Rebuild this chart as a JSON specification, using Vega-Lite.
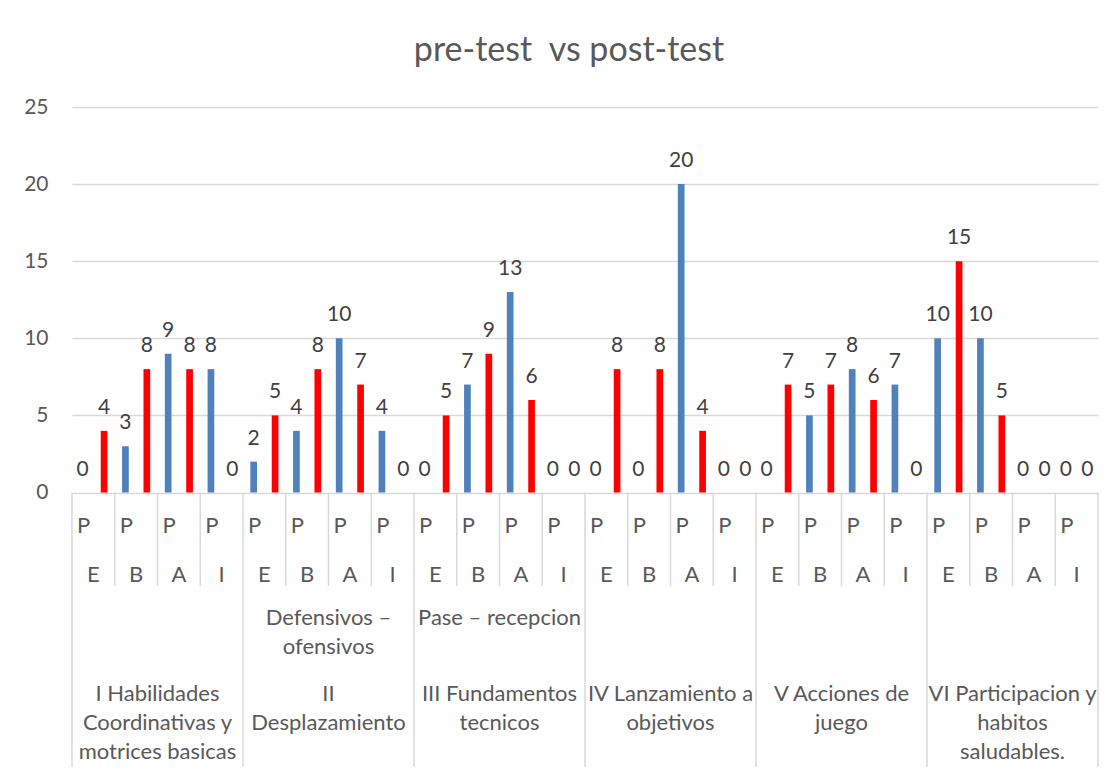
{
  "$schema": "https://vega.github.io/schema/vega-lite/v6.json",
  "width": 1026,
  "height": 660,
  "autosize": {"type": "none"},
  "padding": {"left": 72, "top": 107, "right": 22, "bottom": 9},
  "background": "white",
  "title": {
    "text": "pre-test \u00a0vs post-test",
    "font": "Lato",
    "fontSize": 34,
    "fontWeight": "normal",
    "color": "#595959",
    "anchor": "middle",
    "dx": -16,
    "offset": 28
  },
  "config": {
    "view": {"stroke": null},
    "font": "Lato",
    "text": {"font": "Lato"}
  },
  "datasets": {
    "bars": [
      {"g": "I", "s": "PE", "k": "I|PE", "series": "pre-test", "v": 0},
      {"g": "I", "s": "PE", "k": "I|PE", "series": "post-test", "v": 4},
      {"g": "I", "s": "PB", "k": "I|PB", "series": "pre-test", "v": 3},
      {"g": "I", "s": "PB", "k": "I|PB", "series": "post-test", "v": 8},
      {"g": "I", "s": "PA", "k": "I|PA", "series": "pre-test", "v": 9},
      {"g": "I", "s": "PA", "k": "I|PA", "series": "post-test", "v": 8},
      {"g": "I", "s": "PI", "k": "I|PI", "series": "pre-test", "v": 8},
      {"g": "I", "s": "PI", "k": "I|PI", "series": "post-test", "v": 0},
      {"g": "II", "s": "PE", "k": "II|PE", "series": "pre-test", "v": 2},
      {"g": "II", "s": "PE", "k": "II|PE", "series": "post-test", "v": 5},
      {"g": "II", "s": "PB", "k": "II|PB", "series": "pre-test", "v": 4},
      {"g": "II", "s": "PB", "k": "II|PB", "series": "post-test", "v": 8},
      {"g": "II", "s": "PA", "k": "II|PA", "series": "pre-test", "v": 10},
      {"g": "II", "s": "PA", "k": "II|PA", "series": "post-test", "v": 7},
      {"g": "II", "s": "PI", "k": "II|PI", "series": "pre-test", "v": 4},
      {"g": "II", "s": "PI", "k": "II|PI", "series": "post-test", "v": 0},
      {"g": "III", "s": "PE", "k": "III|PE", "series": "pre-test", "v": 0},
      {"g": "III", "s": "PE", "k": "III|PE", "series": "post-test", "v": 5},
      {"g": "III", "s": "PB", "k": "III|PB", "series": "pre-test", "v": 7},
      {"g": "III", "s": "PB", "k": "III|PB", "series": "post-test", "v": 9},
      {"g": "III", "s": "PA", "k": "III|PA", "series": "pre-test", "v": 13},
      {"g": "III", "s": "PA", "k": "III|PA", "series": "post-test", "v": 6},
      {"g": "III", "s": "PI", "k": "III|PI", "series": "pre-test", "v": 0},
      {"g": "III", "s": "PI", "k": "III|PI", "series": "post-test", "v": 0},
      {"g": "IV", "s": "PE", "k": "IV|PE", "series": "pre-test", "v": 0},
      {"g": "IV", "s": "PE", "k": "IV|PE", "series": "post-test", "v": 8},
      {"g": "IV", "s": "PB", "k": "IV|PB", "series": "pre-test", "v": 0},
      {"g": "IV", "s": "PB", "k": "IV|PB", "series": "post-test", "v": 8},
      {"g": "IV", "s": "PA", "k": "IV|PA", "series": "pre-test", "v": 20},
      {"g": "IV", "s": "PA", "k": "IV|PA", "series": "post-test", "v": 4},
      {"g": "IV", "s": "PI", "k": "IV|PI", "series": "pre-test", "v": 0},
      {"g": "IV", "s": "PI", "k": "IV|PI", "series": "post-test", "v": 0},
      {"g": "V", "s": "PE", "k": "V|PE", "series": "pre-test", "v": 0},
      {"g": "V", "s": "PE", "k": "V|PE", "series": "post-test", "v": 7},
      {"g": "V", "s": "PB", "k": "V|PB", "series": "pre-test", "v": 5},
      {"g": "V", "s": "PB", "k": "V|PB", "series": "post-test", "v": 7},
      {"g": "V", "s": "PA", "k": "V|PA", "series": "pre-test", "v": 8},
      {"g": "V", "s": "PA", "k": "V|PA", "series": "post-test", "v": 6},
      {"g": "V", "s": "PI", "k": "V|PI", "series": "pre-test", "v": 7},
      {"g": "V", "s": "PI", "k": "V|PI", "series": "post-test", "v": 0},
      {"g": "VI", "s": "PE", "k": "VI|PE", "series": "pre-test", "v": 10},
      {"g": "VI", "s": "PE", "k": "VI|PE", "series": "post-test", "v": 15},
      {"g": "VI", "s": "PB", "k": "VI|PB", "series": "pre-test", "v": 10},
      {"g": "VI", "s": "PB", "k": "VI|PB", "series": "post-test", "v": 5},
      {"g": "VI", "s": "PA", "k": "VI|PA", "series": "pre-test", "v": 0},
      {"g": "VI", "s": "PA", "k": "VI|PA", "series": "post-test", "v": 0},
      {"g": "VI", "s": "PI", "k": "VI|PI", "series": "pre-test", "v": 0},
      {"g": "VI", "s": "PI", "k": "VI|PI", "series": "post-test", "v": 0}
    ],
    "cats": [
      {"k": "I|PE", "g": "I", "s": "PE", "l1": "P", "l2": "E"},
      {"k": "I|PB", "g": "I", "s": "PB", "l1": "P", "l2": "B"},
      {"k": "I|PA", "g": "I", "s": "PA", "l1": "P", "l2": "A"},
      {"k": "I|PI", "g": "I", "s": "PI", "l1": "P", "l2": "I"},
      {"k": "II|PE", "g": "II", "s": "PE", "l1": "P", "l2": "E"},
      {"k": "II|PB", "g": "II", "s": "PB", "l1": "P", "l2": "B"},
      {"k": "II|PA", "g": "II", "s": "PA", "l1": "P", "l2": "A"},
      {"k": "II|PI", "g": "II", "s": "PI", "l1": "P", "l2": "I"},
      {"k": "III|PE", "g": "III", "s": "PE", "l1": "P", "l2": "E"},
      {"k": "III|PB", "g": "III", "s": "PB", "l1": "P", "l2": "B"},
      {"k": "III|PA", "g": "III", "s": "PA", "l1": "P", "l2": "A"},
      {"k": "III|PI", "g": "III", "s": "PI", "l1": "P", "l2": "I"},
      {"k": "IV|PE", "g": "IV", "s": "PE", "l1": "P", "l2": "E"},
      {"k": "IV|PB", "g": "IV", "s": "PB", "l1": "P", "l2": "B"},
      {"k": "IV|PA", "g": "IV", "s": "PA", "l1": "P", "l2": "A"},
      {"k": "IV|PI", "g": "IV", "s": "PI", "l1": "P", "l2": "I"},
      {"k": "V|PE", "g": "V", "s": "PE", "l1": "P", "l2": "E"},
      {"k": "V|PB", "g": "V", "s": "PB", "l1": "P", "l2": "B"},
      {"k": "V|PA", "g": "V", "s": "PA", "l1": "P", "l2": "A"},
      {"k": "V|PI", "g": "V", "s": "PI", "l1": "P", "l2": "I"},
      {"k": "VI|PE", "g": "VI", "s": "PE", "l1": "P", "l2": "E"},
      {"k": "VI|PB", "g": "VI", "s": "PB", "l1": "P", "l2": "B"},
      {"k": "VI|PA", "g": "VI", "s": "PA", "l1": "P", "l2": "A"},
      {"k": "VI|PI", "g": "VI", "s": "PI", "l1": "P", "l2": "I"}
    ],
    "groupLabels": [
      {"k": "II|PA", "tier": "mid", "text": "Defensivos –\nofensivos"},
      {"k": "III|PA", "tier": "mid", "text": "Pase – recepcion"},
      {"k": "I|PA", "tier": "group", "text": "I Habilidades\nCoordinativas y\nmotrices basicas"},
      {"k": "II|PA", "tier": "group", "text": "II\nDesplazamiento"},
      {"k": "III|PA", "tier": "group", "text": "III Fundamentos\ntecnicos"},
      {"k": "IV|PA", "tier": "group", "text": "IV Lanzamiento a\nobjetivos"},
      {"k": "V|PA", "tier": "group", "text": "V Acciones de\njuego"},
      {"k": "VI|PA", "tier": "group", "text": "VI Participacion y\nhabitos\nsaludables."}
    ]
  },
  "layer": [
    {
      "data": {"name": "bars"},
      "mark": {"type": "bar"},
      "encoding": {
        "x": {
          "field": "k", "type": "nominal", "axis": null,
          "scale": {
            "domain": ["I|PE","I|PB","I|PA","I|PI","II|PE","II|PB","II|PA","II|PI","III|PE","III|PB","III|PA","III|PI","IV|PE","IV|PB","IV|PA","IV|PI","V|PE","V|PB","V|PA","V|PI","VI|PE","VI|PB","VI|PA","VI|PI"],
            "paddingInner": 0, "paddingOuter": 0
          }
        },
        "xOffset": {
          "field": "series", "type": "nominal",
          "scale": {"domain": ["pre-test", "post-test"], "paddingInner": 0.687, "paddingOuter": 0.342}
        },
        "y": {
          "field": "v", "type": "quantitative", "title": null,
          "scale": {"domain": [-17.8, 25], "nice": false, "zero": false},
          "axis": {
            "values": [0, 5, 10, 15, 20, 25],
            "grid": true, "gridColor": "#d9d9d9", "gridWidth": 1.5,
            "domain": false, "ticks": false, "tickSize": 0,
            "labelPadding": 24, "labelFontSize": 21, "labelFont": "Lato",
            "labelColor": "#595959", "title": null
          }
        },
        "y2": {"datum": 0},
        "color": {
          "field": "series", "type": "nominal", "legend": null,
          "scale": {"domain": ["pre-test", "post-test"], "range": ["#4f81bd", "#ff0000"]}
        }
      }
    },
    {
      "data": {"name": "bars"},
      "mark": {"type": "text", "fontSize": 21, "dy": -23, "baseline": "middle", "color": "#404040"},
      "encoding": {
        "x": {"field": "k", "type": "nominal", "axis": null},
        "xOffset": {"field": "series", "type": "nominal"},
        "y": {"field": "v", "type": "quantitative", "title": null},
        "text": {"field": "v", "type": "quantitative"}
      }
    },
    {
      "data": {"name": "cats"},
      "mark": {"type": "text", "fontSize": 22, "align": "left", "dx": 5, "baseline": "middle", "color": "#595959"},
      "encoding": {
        "x": {"field": "k", "type": "nominal", "bandPosition": 0, "axis": null},
        "y": {"datum": -2.2, "title": null},
        "text": {"field": "l1"}
      }
    },
    {
      "data": {"name": "cats"},
      "mark": {"type": "text", "fontSize": 22, "align": "center", "baseline": "middle", "color": "#595959"},
      "encoding": {
        "x": {"field": "k", "type": "nominal", "bandPosition": 0.5, "axis": null},
        "y": {"datum": -5.35, "title": null},
        "text": {"field": "l2"}
      }
    },
    {
      "data": {"name": "groupLabels"},
      "transform": [{"filter": "datum.tier == 'mid'"}],
      "mark": {"type": "text", "fontSize": 22, "align": "center", "baseline": "top", "lineBreak": "\n", "lineHeight": 29, "color": "#595959"},
      "encoding": {
        "x": {"field": "k", "type": "nominal", "bandPosition": 0, "axis": null},
        "y": {"datum": -7.46, "title": null},
        "text": {"field": "text"}
      }
    },
    {
      "data": {"name": "groupLabels"},
      "transform": [{"filter": "datum.tier == 'group'"}],
      "mark": {"type": "text", "fontSize": 22, "align": "center", "baseline": "top", "lineBreak": "\n", "lineHeight": 29, "color": "#595959"},
      "encoding": {
        "x": {"field": "k", "type": "nominal", "bandPosition": 0, "axis": null},
        "y": {"datum": -12.43, "title": null},
        "text": {"field": "text"}
      }
    },
    {
      "data": {"name": "cats"},
      "transform": [{"filter": "datum.s != 'PE'"}],
      "mark": {"type": "rule", "color": "#d9d9d9", "strokeWidth": 1.5},
      "encoding": {
        "x": {"field": "k", "type": "nominal", "bandPosition": 0, "axis": null},
        "y": {"datum": 0, "title": null},
        "y2": {"datum": -6.06}
      }
    },
    {
      "data": {"name": "cats"},
      "transform": [{"filter": "datum.s == 'PE'"}],
      "mark": {"type": "rule", "color": "#d9d9d9", "strokeWidth": 1.5},
      "encoding": {
        "x": {"field": "k", "type": "nominal", "bandPosition": 0, "axis": null},
        "y": {"datum": 0, "title": null},
        "y2": {"datum": -17.8}
      }
    },
    {
      "data": {"name": "cats"},
      "transform": [{"filter": "datum.k == 'VI|PI'"}],
      "mark": {"type": "rule", "color": "#d9d9d9", "strokeWidth": 1.5},
      "encoding": {
        "x": {"field": "k", "type": "nominal", "bandPosition": 1, "axis": null},
        "y": {"datum": 0, "title": null},
        "y2": {"datum": -17.8}
      }
    }
  ]
}
